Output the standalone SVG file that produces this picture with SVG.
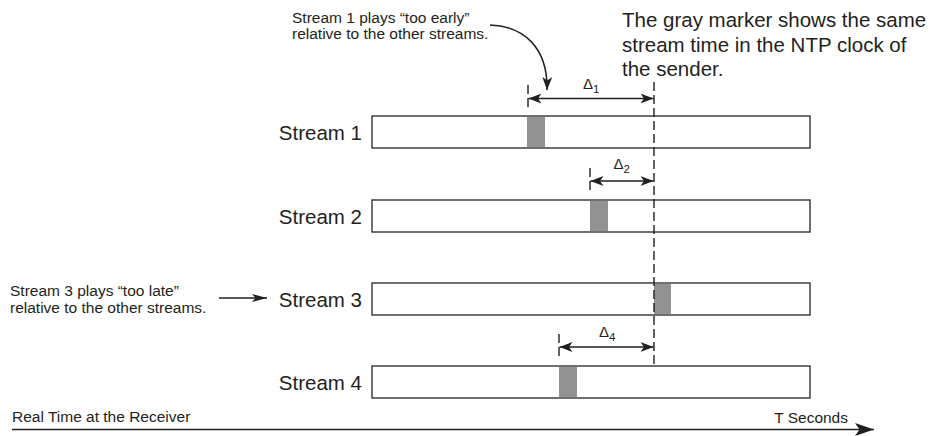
<svg xmlns="http://www.w3.org/2000/svg" width="940" height="436" viewBox="0 0 940 436">
<style>
  text { font-family: "Liberation Sans", Arial, sans-serif; fill: #231f20; }
  .lbl { font-size: 20.5px; text-anchor: end; }
  .note { font-size: 20.5px; }
  .small { font-size: 15.5px; }
  .delta { font-size: 15px; }
  .sub { font-size: 11.5px; }
  .bar { fill: #fff; stroke: #333; stroke-width: 1.4; }
  .mark { fill: #929292; }
  .ln { stroke: #231f20; stroke-width: 1.5; fill: none; }
  .dash { stroke: #231f20; stroke-width: 1.4; stroke-dasharray: 9 4; fill: none; }
</style>
<defs>
  <marker id="ah" markerUnits="userSpaceOnUse" markerWidth="14" markerHeight="10" refX="13" refY="5" orient="auto-start-reverse">
    <path d="M0,0 L13,5 L0,10 L3.5,5 z" fill="#231f20"/>
  </marker>
  <marker id="ahl" markerUnits="userSpaceOnUse" markerWidth="16" markerHeight="8" refX="15" refY="4" orient="auto">
    <path d="M0,0 L15,4 L0,8 L3.5,4 z" fill="#231f20"/>
  </marker>
  <marker id="ahb" markerUnits="userSpaceOnUse" markerWidth="20" markerHeight="13" refX="19" refY="6.5" orient="auto">
    <path d="M0,0 L19,6.5 L0,13 L4.5,6.5 z" fill="#231f20"/>
  </marker>
</defs>

<g id="stream1">
  <text class="lbl" x="362" y="140">Stream 1</text>
  <rect class="bar" x="372" y="116" width="438" height="32"/>
  <rect class="mark" x="527" y="117" width="18" height="30"/>
</g>
<g id="stream2">
  <text class="lbl" x="362" y="223.5">Stream 2</text>
  <rect class="bar" x="372" y="200" width="438" height="32"/>
  <rect class="mark" x="590" y="201" width="18" height="30"/>
</g>
<g id="stream3">
  <text class="lbl" x="362" y="307">Stream 3</text>
  <rect class="bar" x="372" y="283" width="438" height="32"/>
  <rect class="mark" x="654" y="284" width="17" height="30"/>
</g>
<g id="stream4">
  <text class="lbl" x="362" y="390">Stream 4</text>
  <rect class="bar" x="372" y="366" width="438" height="32"/>
  <rect class="mark" x="559" y="367" width="18" height="30"/>
</g>

<g id="note-early">
  <text class="small" x="292" y="22.5">Stream 1 plays “too early”</text>
  <text class="small" x="292" y="39">relative to the other streams.</text>
</g>
<g id="note-late">
  <text class="small" x="10" y="295.5">Stream 3 plays “too late”</text>
  <text class="small" x="10" y="313">relative to the other streams.</text>
</g>
<g id="note-gray">
  <text class="note" x="622" y="27">The gray marker shows the same</text>
  <text class="note" x="622" y="51.5">stream time in the NTP clock of</text>
  <text class="note" x="622" y="76">the sender.</text>
</g>

<g id="delta1">
  <text class="delta" x="583" y="88.5">Δ<tspan class="sub" dy="4">1</tspan></text>
</g>
<g id="delta2">
  <text class="delta" x="613.5" y="169">Δ<tspan class="sub" dy="4">2</tspan></text>
</g>
<g id="delta4">
  <text class="delta" x="599" y="337">Δ<tspan class="sub" dy="4">4</tspan></text>
</g>

<g id="axis">
  <text class="small" x="12" y="422">Real Time at the Receiver</text>
  <text class="small" x="848" y="422.5" text-anchor="end">T Seconds</text>
</g>

<g id="connectors">
  <line class="dash" x1="654" y1="82" x2="654" y2="366"/>
  <line class="dash" x1="528" y1="85" x2="528" y2="110"/>
  <line class="dash" x1="590" y1="168" x2="590" y2="194"/>
  <line class="dash" x1="559" y1="334" x2="559" y2="360"/>
  <line class="ln" x1="528.5" y1="98.5" x2="653.5" y2="98.5" marker-start="url(#ah)" marker-end="url(#ah)"/>
  <line class="ln" x1="590.5" y1="181" x2="653.5" y2="181" marker-start="url(#ah)" marker-end="url(#ah)"/>
  <line class="ln" x1="559.5" y1="347" x2="653.5" y2="347" marker-start="url(#ah)" marker-end="url(#ah)"/>
  <path class="ln" d="M490,25 C524,26 548,48 547,90" marker-end="url(#ah)"/>
  <line class="ln" x1="219" y1="298" x2="267" y2="298" marker-end="url(#ahl)"/>
  <line class="ln" x1="12" y1="429.5" x2="874" y2="429.5" stroke-width="2" marker-end="url(#ahb)"/>
</g>
</svg>
